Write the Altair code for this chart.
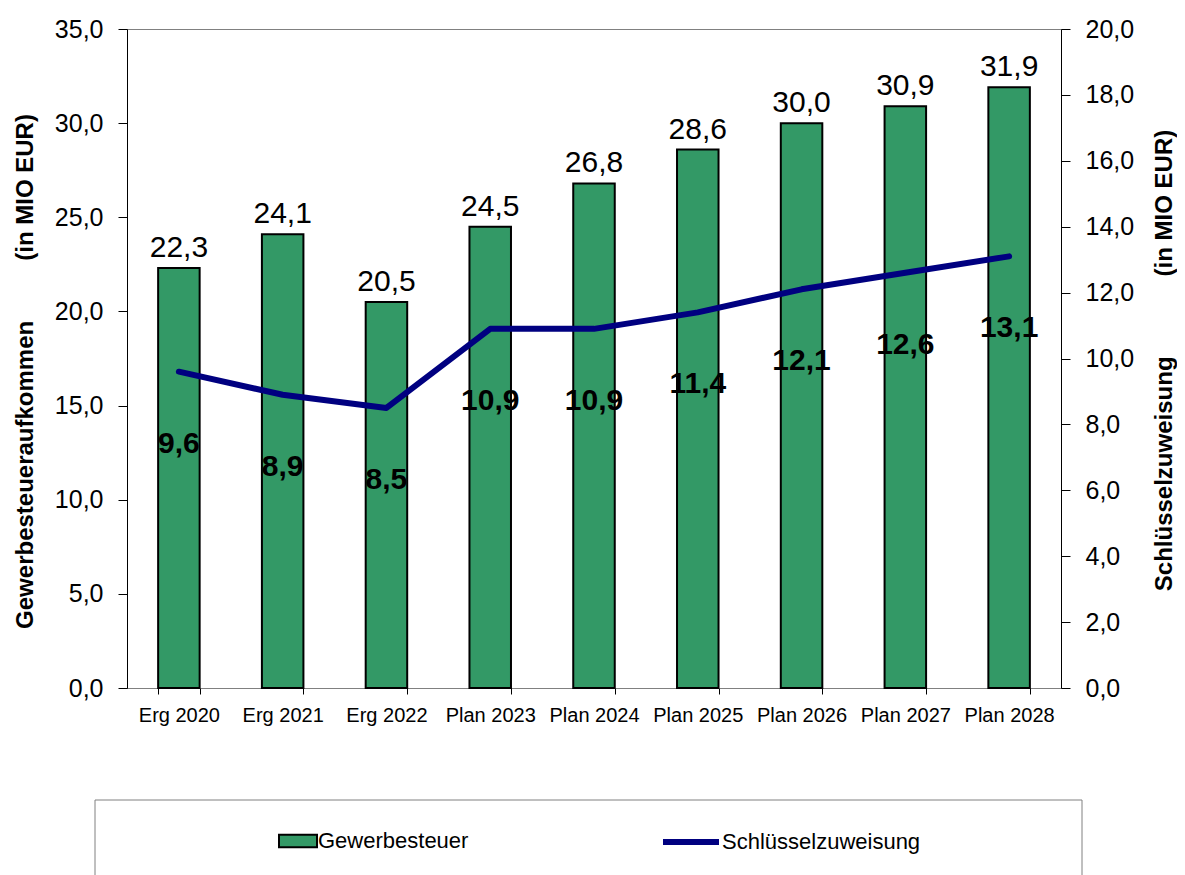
import altair as alt
import pandas as pd

# ---------------- data ----------------
categories = ["Erg 2020", "Erg 2021", "Erg 2022", "Plan 2023", "Plan 2024",
              "Plan 2025", "Plan 2026", "Plan 2027", "Plan 2028"]
gewerbesteuer = [22.3, 24.1, 20.5, 24.5, 26.8, 28.6, 30.0, 30.9, 31.9]
schluesselzuweisung = [9.6, 8.9, 8.5, 10.9, 10.9, 11.4, 12.1, 12.6, 13.1]
left_ticks = [0, 5, 10, 15, 20, 25, 30, 35]
right_ticks = [0, 2, 4, 6, 8, 10, 12, 14, 16, 18, 20]
series_names = ["Gewerbesteuer", "Schlüsselzuweisung"]

df = pd.DataFrame({"Jahr": categories,
                   "Gewerbesteuer": gewerbesteuer,
                   "Schluessel": schluesselzuweisung})

FONT = "Liberation Sans"
NB = "\u00a0"
FMT_AXIS = "replace(format(datum.value, '.1f'), '.', ',')"
GREEN = "#339966"
NAVY = "#000080"

x_enc = alt.X(
    "Jahr:N", sort=categories,
    scale=alt.Scale(paddingInner=0.6, paddingOuter=0.3),
    axis=alt.Axis(title=None, labelAngle=0, labelFont=FONT, labelFontSize=20,
                  labelColor="black", tickBand="extent", tickSize=6,
                  tickColor="black", domainColor="#808080", labelPadding=11,
                  grid=False),
)

base = alt.Chart(df)

bars = base.transform_calculate(s1="'Gewerbesteuer'").mark_bar(
    stroke="black", strokeWidth=2
).encode(
    x=x_enc,
    y=alt.Y("Gewerbesteuer:Q",
            scale=alt.Scale(domain=[0, 35], nice=False),
            axis=alt.Axis(orient="left", values=left_ticks, labelExpr=FMT_AXIS,
                          labelFont=FONT, labelFontSize=25, labelColor="black",
                          tickSize=9, tickColor="black", domainColor="black",
                          labelPadding=15, grid=False,
                          title="Gewerbesteueraufkommen" + NB * 9 + "(in MIO EUR)",
                          titleFont=FONT, titleFontSize=24, titleFontWeight="bold",
                          titleColor="black", titleAngle=270, titleX=-102,
                          titleY=342, titleAlign="center", titleBaseline="middle")),
    fill=alt.Fill("s1:N",
                  scale=alt.Scale(domain=[series_names[0]], range=[GREEN]),
                  legend=alt.Legend(title=None, orient="none", legendX=151,
                                    legendY=792, padding=0,
                                    symbolType="M-1,-0.33H1V0.33H-1Z",
                                    symbolSize=1444, symbolStrokeColor="black",
                                    symbolStrokeWidth=2, symbolOpacity=1,
                                    labelFont=FONT, labelFontSize=22,
                                    labelColor="black", labelOffset=0,
                                    labelLimit=400)),
)

bar_labels = base.transform_calculate(
    lab="replace(format(datum.Gewerbesteuer, '.1f'), '.', ',')"
).mark_text(font=FONT, fontSize=30, baseline="alphabetic", dy=-11,
            color="black").encode(
    x=alt.X("Jahr:N", sort=categories),
    y=alt.Y("Gewerbesteuer:Q"),
    text="lab:N",
)

frame = alt.Chart(pd.DataFrame({"k": [0]})).mark_rect(
    fill=None, stroke="#808080", strokeWidth=1
).encode(x=alt.value(-32), x2=alt.value(955), y=alt.value(771), y2=alt.value(860))

left_layer = alt.layer(bars, bar_labels, frame)

line = base.transform_calculate(s2="'Schlüsselzuweisung'").mark_line(
    strokeWidth=6, strokeCap="round", strokeJoin="round"
).encode(
    x=alt.X("Jahr:N", sort=categories),
    y=alt.Y("Schluessel:Q",
            scale=alt.Scale(domain=[0, 20], nice=False),
            axis=alt.Axis(orient="right", values=right_ticks, labelExpr=FMT_AXIS,
                          labelFont=FONT, labelFontSize=25, labelColor="black",
                          tickSize=9, tickColor="black", domainColor="black",
                          labelPadding=15, grid=False,
                          title="Schlüsselzuweisung" + NB * 12 + "(in MIO EUR)",
                          titleFont=FONT, titleFontSize=24, titleFontWeight="bold",
                          titleColor="black", titleAngle=270, titleX=103,
                          titleY=331, titleAlign="center", titleBaseline="middle")),
    stroke=alt.Stroke("s2:N",
                      scale=alt.Scale(domain=[series_names[1]], range=[NAVY]),
                      legend=alt.Legend(title=None, orient="none", legendX=533,
                                        legendY=782, padding=0,
                                        symbolType="stroke", symbolSize=3136,
                                        symbolStrokeWidth=6,
                                        labelFont=FONT, labelFontSize=22,
                                        labelColor="black", labelOffset=0,
                                        labelLimit=400)),
)

line_labels = base.transform_calculate(
    lab2="replace(format(datum.Schluessel, '.1f'), '.', ',')"
).mark_text(font=FONT, fontSize=30, fontWeight="bold", baseline="middle",
            dy=72, color="black").encode(
    x=alt.X("Jahr:N", sort=categories),
    y=alt.Y("Schluessel:Q"),
    text="lab2:N",
)

right_layer = alt.layer(line, line_labels)

chart = alt.layer(left_layer, right_layer).resolve_scale(
    y="independent"
).properties(
    width=934, height=659,
    padding={"left": 119, "top": 21, "right": 116, "bottom": 195},
    autosize=alt.AutoSizeParams(type="none"),
    background="white",
).configure_view(stroke="#808080", strokeWidth=1)

chart.save("out.html", embed_options={"renderer": "svg", "actions": False})
